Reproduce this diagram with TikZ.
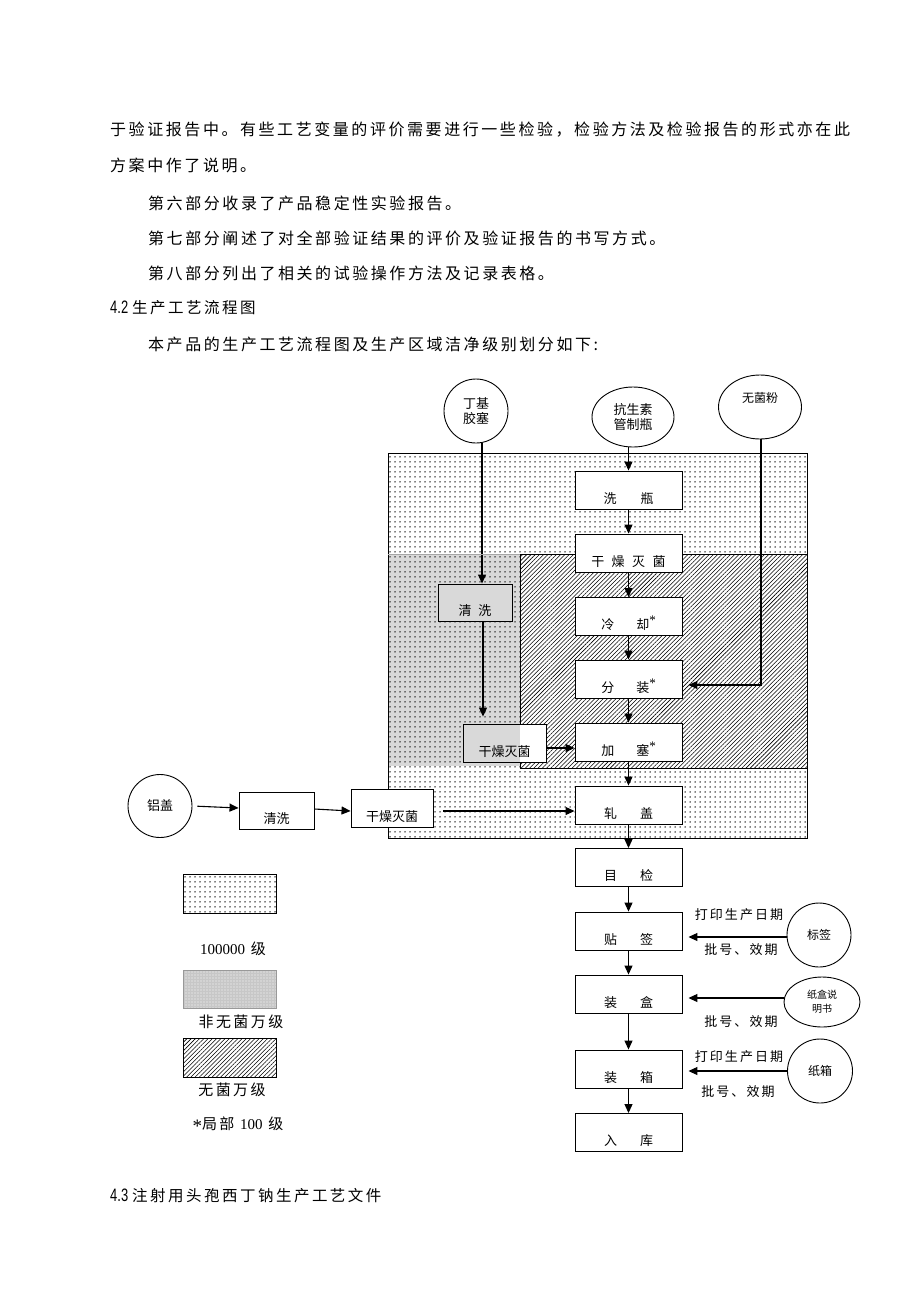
\documentclass[tikz,border=0pt]{standalone}
\usepackage{fontspec}
\usepackage{graphicx}
\usetikzlibrary{patterns.meta,arrows.meta,shapes.geometric,calc}
\newfontfamily\cjk{Noto Sans CJK SC}
\newfontfamily\cjkA[LetterSpace=16]{Noto Sans CJK SC}
\newfontfamily\lsans{Liberation Sans}
\newfontfamily\lserif{Liberation Serif}
\newcommand\fs[1]{\fontsize{#1}{#1}\selectfont}
\newcommand\stx{\raisebox{5pt}{\lserif\fs{13}*}}
\begin{document}
\begin{tikzpicture}[x=1pt,y=-1pt,
  box/.style={draw, line width=0.9pt, fill=white, minimum width=107pt, minimum height=38pt, inner sep=0pt, text height=26pt, text depth=0pt, font=\cjk\fs{13}},
  ell/.style={draw, ellipse, line width=0.9pt, fill=white, inner sep=0pt, align=center, font=\cjk\fontsize{13}{15}\selectfont},
  arr/.style={-{Triangle[length=9pt,width=8pt]}, line width=1.1pt},
  body/.style={anchor=west, inner sep=0pt, font=\cjkA\fs{16}},
  lab/.style={inner sep=0pt, font=\cjkA\fs{13}},
  leg/.style={inner sep=0pt, font=\cjkA\fs{15}},
  dotpat/.style={pattern={Dots[distance=5pt,radius=0.75pt]}},
  hatchpat/.style={pattern={Lines[angle=45,distance=3pt,line width=0.55pt]}}
]
\useasboundingbox[fill=white] (0,0) rectangle (920,1302);

% body text
\node[body] (t1) at (110,130) {于验证报告中。有些工艺变量的评价需要进行一些检验，检验方法及检验报告的形式亦在此};
\node[body] (t2) at (110,165) {方案中作了说明。};
\node[body] (t3) at (148,203) {第六部分收录了产品稳定性实验报告。};
\node[body] (t4) at (148,238) {第七部分阐述了对全部验证结果的评价及验证报告的书写方式。};
\node[body] (t5) at (148,273) {第八部分列出了相关的试验操作方法及记录表格。};
\node[body] (h1) at (110,308) {\scalebox{0.72}[1]{\lsans\fs{18}4.2}\hspace{4pt}{\fs{15.5}生产工艺流程图}};
\node[body] (t6) at (148,344) {本产品的生产工艺流程图及生产区域洁净级别划分如下:};
\node[body] (h2) at (110,1196) {\scalebox{0.72}[1]{\lsans\fs{18}4.3}\hspace{4pt}{\fs{15.5}注射用头孢西丁钠生产工艺文件}};

% zones
\draw[line width=1pt, dotpat] (388,453) rectangle (807,838);
\fill[white] (520,554) rectangle (807,768);
\draw[line width=1pt, hatchpat] (520,554) rectangle (807,768);

% main column
\node[box] (b1) at (628.5,490) {洗\hspace{24pt}瓶};
\node[box] (b2) at (628.5,553) {干\hspace{7.5pt}燥\hspace{7.5pt}灭\hspace{7.5pt}菌};
\node[box] (b3) at (628.5,616.5) {冷\hspace{22pt}却\stx};
\node[box] (b4) at (628.5,679) {分\hspace{22pt}装\stx};
\node[box] (b5) at (628.5,742) {加\hspace{22pt}塞\stx};
\node[box] (b6) at (628.5,805) {轧\hspace{23pt}盖};
\node[box] (b7) at (628.5,867.5) {目\hspace{23pt}检};
\node[box] (b8) at (628.5,931) {贴\hspace{23pt}签};
\node[box] (b9) at (628.5,994) {装\hspace{23pt}盒};
\node[box] (b10) at (628.5,1069) {装\hspace{23pt}箱};
\node[box] (b11) at (628.5,1132.5) {入\hspace{23pt}库};

% side boxes
\node[box, minimum width=74pt, minimum height=37pt] (g1) at (475,602.5) {清\hspace{7pt}洗};
\node[box, minimum width=83pt] (l2) at (504.5,743) {干燥灭菌};
\node[box, minimum width=75pt, minimum height=37pt] (s1) at (276.5,810.5) {清洗};
\node[box, minimum width=82pt] (s2) at (392,808) {干燥灭菌};

% circles
\node[ell, minimum width=64pt, minimum height=64pt] (c1) at (476,411) {丁基\\胶塞};
\node[ell, minimum width=82pt, minimum height=60pt] (c2) at (633,417) {抗生素\\管制瓶};
\node[ell, minimum width=83pt, minimum height=64pt, text height=0pt, text depth=9pt, font=\cjk\fs{12}] (c3) at (760,407) {无菌粉};
\node[ell, minimum width=64pt, minimum height=63pt] (c4) at (160,806) {铝盖};
\node[ell, minimum width=64pt, minimum height=64pt, font=\cjk\fs{12}] (c5) at (819,935) {标签};
\node[ell, minimum width=76pt, minimum height=50pt, font=\cjk\fontsize{10}{14}\selectfont] (c6) at (822,1002) {纸盒说\\明书};
\node[ell, minimum width=65pt, minimum height=64pt, font=\cjk\fs{12}] (c7) at (820,1071) {纸箱};

% connectors
\draw[arr] ([xshift=6pt]c1.south) -- ([xshift=7pt]g1.north);
\draw[arr, shorten >=7pt] ([xshift=8pt]g1.south) -- ([xshift=8pt]g1.south |- l2.north);
\draw[arr] ([yshift=-5pt]l2.east) -- ([yshift=-5pt]l2.east -| b5.west);
\draw[arr] (c2.south -| b1.north) -- (b1.north);
\foreach \a/\b in {b1/b2,b2/b3,b3/b4,b4/b5,b5/b6,b6/b7,b7/b8,b8/b9,b9/b10,b10/b11}
  \draw[arr] (\a.south) -- (\b.north);
\draw[arr, shorten >=6pt] ([xshift=1pt]c3.south) |- ([yshift=-6pt]b4.east);
\draw[arr, shorten <=5pt] (c4.east) -- ([yshift=2.5pt]s1.west);
\draw[arr] ([yshift=1.5pt]s1.east) -- ([yshift=-3pt]s2.west);
\draw[arr, shorten <=10pt] ([yshift=-3pt]s2.east) -- ([yshift=-3pt]s2.east -| b6.west);
\draw[arr, shorten >=6pt] ([yshift=-2pt]c5.west) -- ([yshift=-2pt]c5.west -| b8.east);
\draw[arr, shorten >=6pt] ([yshift=4pt]c6.west) -- ([yshift=4pt]c6.west -| b9.east);
\draw[arr, shorten >=6pt] (c7.west) -- (c7.west -| b10.east);

% non-sterile zone overlay
\fill[black, opacity=0.15] (388,554) rectangle (520,766);
\draw[black!35, line width=0.9pt] (388,554) -- (520,554);

% side labels
\node[lab] (p1) at (739,915) {打印生产日期};
\node[lab] (q1) at (741,950) {批号、效期};
\node[lab] (q2) at (741,1022) {批号、效期};
\node[lab] (p3) at (739,1057) {打印生产日期};
\node[lab] (q3) at (738,1092) {批号、效期};

% legend
\draw[line width=1pt, dotpat] (183,874) rectangle (276,913);
\fill[black!22] (183,970) rectangle (276,1008);
\draw[black!40, line width=0.9pt, pattern={Dots[distance=3pt,radius=0.6pt]}, pattern color=white] (183,970) rectangle (276,1008);
\draw[line width=1pt, hatchpat] (183,1038) rectangle (276,1077);
\node[leg] (k1) at (233,949) {{\lserif 100000} 级};
\node[leg] (k2) at (241,1022) {非无菌万级};
\node[leg] (k3) at (232,1090) {无菌万级};
\node[leg] (k4) at (238,1125) {\raisebox{-3pt}{\lserif\fs{19}*}局部 {\lserif 100} 级};
\end{tikzpicture}
\end{document}
